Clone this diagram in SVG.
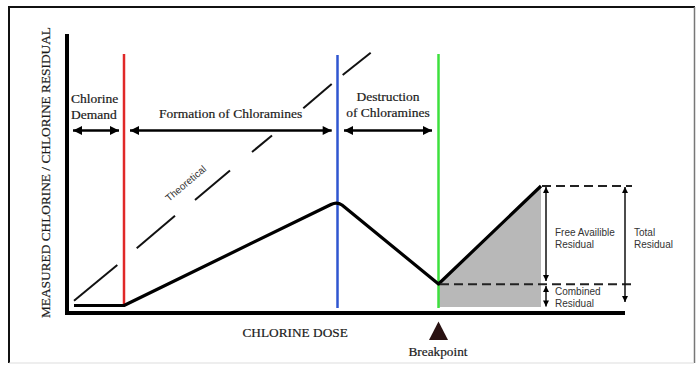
<svg xmlns="http://www.w3.org/2000/svg" width="696" height="365" viewBox="0 0 696 365">
<style>
.serif{font-family:"Liberation Serif","Times New Roman",serif;fill:#1a1a1a;stroke:#1a1a1a;stroke-width:0.2}
.sans{font-family:"Liberation Sans",Arial,sans-serif;fill:#333}
.axis{stroke:#000;stroke-width:4;fill:none}
.arr{stroke:#000;stroke-width:2.5;fill:none}
.thin{stroke:#111;stroke-width:1.5;fill:none}
.dash{stroke:#222;stroke-width:2;stroke-dasharray:9 5;fill:none}
.theo{stroke:#111;stroke-width:2;fill:none}
</style>
<defs>
<marker id="ah" markerUnits="userSpaceOnUse" viewBox="0 0 10 10" refX="10" refY="5" markerWidth="10" markerHeight="9" orient="auto-start-reverse">
<path d="M0,0 L10,5 L0,10 z" fill="#000"/>
</marker>
<marker id="ahs" markerUnits="userSpaceOnUse" viewBox="0 0 10 10" refX="10" refY="5" markerWidth="8" markerHeight="6" orient="auto-start-reverse">
<path d="M0,0 L10,5 L0,10 z" fill="#000"/>
</marker>
</defs>
<rect width="696" height="365" fill="#fff"/>
<g id="frame">
<line x1="8" y1="7" x2="695" y2="7" stroke="#111" stroke-width="2"/>
<line x1="9" y1="6" x2="9" y2="363" stroke="#111" stroke-width="2"/>
<line x1="694.5" y1="7" x2="694.5" y2="363" stroke="#777" stroke-width="1.5"/>
<line x1="9" y1="363" x2="694" y2="363" stroke="#ddd" stroke-width="1"/>
</g>
<g id="shaded-area">
<polygon points="438,284 541,186 541,307 438,307" fill="#b8b8b8"/>
</g>
<g id="phase-lines">
<line x1="124" y1="54" x2="124" y2="306" stroke="#e02828" stroke-width="2.5"/>
<line x1="337.5" y1="55" x2="337.5" y2="308" stroke="#2f56d0" stroke-width="2.5"/>
<line x1="438.5" y1="54" x2="438.5" y2="308" stroke="#3ee03e" stroke-width="2.5"/>
</g>
<g id="theoretical-line">
<line class="theo" x1="74" y1="300.7" x2="117.3" y2="265"/>
<line class="theo" x1="136.7" y1="248.3" x2="175" y2="215.7"/>
<line class="theo" x1="195" y1="200" x2="230" y2="170.5"/>
<line class="theo" x1="252" y1="152" x2="272" y2="135.5"/>
<line class="theo" x1="303.3" y1="108.3" x2="331.7" y2="84"/>
<line class="theo" x1="342.7" y1="75" x2="370.7" y2="52.7"/>
<text class="sans" transform="translate(188,186) rotate(-40)" font-size="10" text-anchor="middle" fill="#222">Theoretical</text>
</g>
<g id="axes">
<line class="axis" x1="67" y1="34" x2="67" y2="315"/>
<line class="axis" x1="65" y1="313" x2="625" y2="313"/>
<text class="serif" transform="translate(49.5,172.5) rotate(-90)" font-size="13" text-anchor="middle" textLength="291" lengthAdjust="spacingAndGlyphs">MEASURED CHLORINE / CHLORINE RESIDUAL</text>
<text class="serif" x="242.5" y="336.5" font-size="13.3">CHLORINE DOSE</text>
</g>
<g id="residual-curve">
<path d="M74,305.5 L124,305.5 L331,204.5 Q337,201.5 342,205 L438.5,284 L541,186" stroke="#000" stroke-width="3.2" fill="none" stroke-linejoin="round"/>
</g>
<g id="connectors">
<line class="arr" x1="73" y1="130.5" x2="119" y2="130.5" marker-start="url(#ah)" marker-end="url(#ah)"/>
<line class="arr" x1="130" y1="130.5" x2="331.7" y2="130.5" marker-start="url(#ah)" marker-end="url(#ah)"/>
<line class="arr" x1="344" y1="130.5" x2="432" y2="130.5" marker-start="url(#ah)" marker-end="url(#ah)"/>
<line class="dash" x1="542" y1="186" x2="632" y2="186"/>
<line class="dash" x1="440" y1="284.3" x2="632" y2="284.3"/>
<line class="thin" x1="546" y1="187" x2="546" y2="281" marker-start="url(#ahs)" marker-end="url(#ahs)"/>
<line class="thin" x1="546" y1="286" x2="546" y2="306.5" marker-start="url(#ahs)" marker-end="url(#ahs)"/>
<line class="thin" x1="625" y1="187" x2="625" y2="302" marker-start="url(#ahs)" marker-end="url(#ahs)"/>
</g>
<g id="label-demand">
<text class="serif" x="71" y="103" font-size="13.5">Chlorine</text>
<text class="serif" x="71" y="119" font-size="13.5">Demand</text>
</g>
<g id="label-formation">
<text class="serif" x="159" y="118" font-size="13.5">Formation of Chloramines</text>
</g>
<g id="label-destruction">
<text class="serif" x="388" y="101" font-size="13.5" text-anchor="middle">Destruction</text>
<text class="serif" x="388" y="117" font-size="13.5" text-anchor="middle">of Chloramines</text>
</g>
<g id="label-free">
<text class="sans" x="555" y="236" font-size="10">Free Availible</text>
<text class="sans" x="555" y="248" font-size="10">Residual</text>
</g>
<g id="label-total">
<text class="sans" x="634" y="236" font-size="10">Total</text>
<text class="sans" x="634" y="248" font-size="10">Residual</text>
</g>
<g id="label-combined">
<text class="sans" x="555" y="295" font-size="10">Combined</text>
<text class="sans" x="555" y="307" font-size="10">Residual</text>
</g>
<g id="breakpoint">
<polygon points="438.5,321.5 429,340 448,340" fill="#2a1212"/>
<text class="serif" x="438" y="356" font-size="13.3" text-anchor="middle">Breakpoint</text>
</g>
</svg>
